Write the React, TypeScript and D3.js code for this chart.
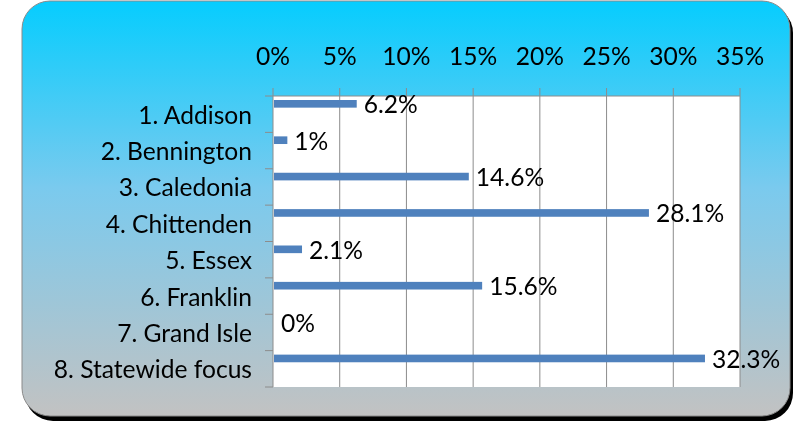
import React from "react";
import * as d3 from "d3";

const categories = [
  "1. Addison",
  "2. Bennington",
  "3. Caledonia",
  "4. Chittenden",
  "5. Essex",
  "6. Franklin",
  "7. Grand Isle",
  "8. Statewide focus",
];
const values = [6.2, 1, 14.6, 28.1, 2.1, 15.6, 0, 32.3];
const valueLabels = ["6.2%", "1%", "14.6%", "28.1%", "2.1%", "15.6%", "0%", "32.3%"];
const ticks = [0, 5, 10, 15, 20, 25, 30, 35];

const W = 793;
const H = 425;
const plot = { left: 273, right: 740, top: 96, bottom: 387 };
const FONT = "Lato, 'Open Sans', sans-serif";
const FS = 24.6;

export default function App() {
  const x = d3.scaleLinear().domain([0, 35]).range([plot.left, plot.right]);
  const y = d3.scaleBand<string>().domain(categories).range([plot.top, plot.bottom]).padding(0);
  const step = y.step();
  const gridColor = "#8c8c8c";

  return (
    <div style={{ position: "fixed", left: 0, top: 0 }}>
      <svg width={W} height={H} style={{ display: "block" }}>
        <defs>
          <linearGradient id="bg" x1="0" y1="0" x2="0" y2="1">
            <stop offset="0" stopColor="#06CDFE" />
            <stop offset="0.45" stopColor="#7ACAEE" />
            <stop offset="1" stopColor="#C2C2C2" />
          </linearGradient>
        </defs>
        <rect x={25} y={5} width={768} height={416} rx={28} ry={28} fill="#000" />
        <rect x={22} y={1} width={768} height={415} rx={28} ry={28} fill="url(#bg)" stroke="#8a8a8a" strokeWidth={1} />
        <rect x={plot.left} y={plot.top} width={plot.right - plot.left} height={plot.bottom - plot.top} fill="#fff" />
        {ticks.map((t) => (
          <line key={"g" + t} x1={x(t)} x2={x(t)} y1={plot.top - 8} y2={plot.bottom} stroke={gridColor} strokeWidth={1} />
        ))}
        <line x1={plot.left - 8} x2={plot.right} y1={plot.top} y2={plot.top} stroke={gridColor} strokeWidth={1} />
        {categories.map((c, i) => (
          <line key={"t" + i} x1={plot.left - 8} x2={plot.left} y1={(y(c) as number) + step} y2={(y(c) as number) + step} stroke={gridColor} strokeWidth={1} />
        ))}
        {ticks.map((t) => (
          <text key={"l" + t} x={x(t)} y={55} textAnchor="middle" dominantBaseline="central" fontFamily={FONT} fontSize={FS} fill="#000">
            {t + "%"}
          </text>
        ))}
        {categories.map((c, i) => {
          const y0 = y(c) as number;
          const by = y0 + step * 0.11;
          const bh = step * 0.21;
          const w = x(values[i]) - x(0);
          return (
            <g key={c}>
              <text x={252} y={y0 + step / 2} textAnchor="end" dominantBaseline="central" fontFamily={FONT} fontSize={FS} fill="#000">
                {c}
              </text>
              {w > 0 && <rect x={x(0) + 1} y={by} width={w} height={bh} fill="#4F81BD" />}
              <text x={x(values[i]) + 8} y={by + bh / 2} dominantBaseline="central" fontFamily={FONT} fontSize={FS} fill="#000">
                {valueLabels[i]}
              </text>
            </g>
          );
        })}
      </svg>
    </div>
  );
}
